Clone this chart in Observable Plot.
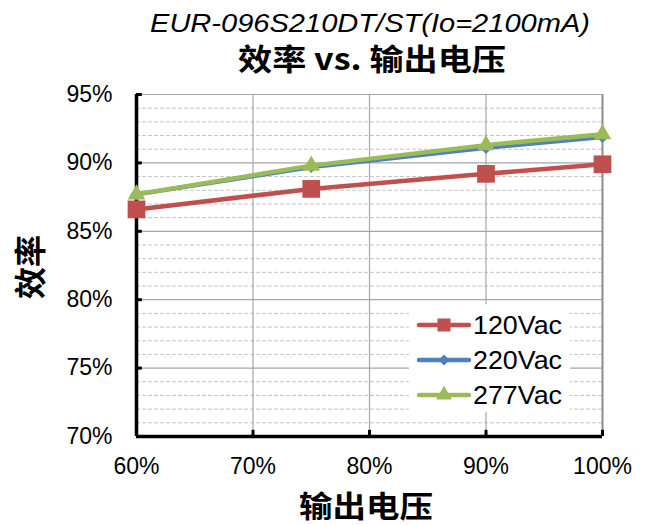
<!DOCTYPE html>
<html>
<head>
<meta charset="utf-8">
<script src="https://cdn.jsdelivr.net/npm/d3@7"></script>
<script src="https://cdn.jsdelivr.net/npm/@observablehq/plot@0.6"></script>
<style>
  html, body { margin: 0; padding: 0; background: white; }
  #chart { width: 645px; height: 525px; }
</style>
</head>
<body>
<div id="chart"></div>
<script>
const titleLine1 = "EUR-096S210DT/ST(Io=2100mA)";
const titleLine2 = "效率 vs. 输出电压";
const xTitle = "输出电压";
const yTitle = "效率";

const voltage = [60, 75, 90, 100];           // output voltage, %
const eff120 = [86.6, 88.1, 89.2, 89.9];     // efficiency, %
const eff220 = [87.7, 89.7, 91.1, 91.9];
const eff277 = [87.7, 89.8, 91.3, 92.1];

const seriesNames = ["120Vac", "220Vac", "277Vac"];
const seriesColors = ["#C0504D", "#4F81BD", "#9BBB59"];
const seriesSymbols = ["square", "diamond2", "triangle"];
const seriesR = [10, 5.5, 6.5];

const xTicks = [60, 70, 80, 90, 100];
const yTicks = [70, 75, 80, 85, 90, 95];
const yMinor = [71,72,73,74,76,77,78,79,81,82,83,84,86,87,88,89,91,92,93,94];

const seriesValues = [eff120, eff220, eff277];
const rows = seriesNames.flatMap((s, i) =>
  voltage.map((v, j) => ({series: s, v, eff: seriesValues[i][j]})));

const pct = d => d + "%";

const seriesMarks = seriesNames.flatMap((s, i) => {
  const d = rows.filter(r => r.series === s);
  return [
    Plot.line(d, {x: "v", y: "eff", stroke: "series", strokeWidth: 4.5, strokeLinejoin: "round"}),
    Plot.dot(d, {x: "v", y: "eff", fill: "series", symbol: () => seriesSymbols[i], r: seriesR[i], stroke: "none"})
  ];
});

const chart = Plot.plot({
  width: 645,
  height: 525,
  marginLeft: 136,
  marginRight: 43,
  marginTop: 94,
  marginBottom: 89,
  style: {fontFamily: "'Liberation Sans', Arial, sans-serif", fontSize: "22px", background: "white", color: "black", overflow: "visible"},
  x: {domain: [60, 100], label: null},
  y: {domain: [70, 95], label: null},
  color: {domain: seriesNames, range: seriesColors},
  symbol: {domain: seriesSymbols, range: seriesSymbols},
  marks: [
    Plot.ruleY(yMinor, {stroke: "#c4c4c4", strokeWidth: 1, strokeDasharray: "4,2"}),
    Plot.ruleY(yTicks.slice(1), {stroke: "#a6a6a6", strokeWidth: 1.2}),
    Plot.ruleX(xTicks.slice(1, -1), {stroke: "#a6a6a6", strokeWidth: 1.2}),
    Plot.ruleX([100], {stroke: "#8c8c8c", strokeWidth: 2}),
    Plot.axisY({ticks: yTicks, tickFormat: pct, tickSize: 0, tickPadding: 24, fontSize: 23}),
    Plot.axisX({ticks: xTicks, tickFormat: pct, tickSize: 0, tickPadding: 21, fontSize: 23}),
    Plot.ruleY(yTicks, {x1: 60, x2: 60.5, stroke: "black", strokeWidth: 3}),
    Plot.ruleX(xTicks, {y1: 70, y2: 70.45, stroke: "black", strokeWidth: 3}),
    Plot.ruleX([60], {stroke: "black", strokeWidth: 3.5}),
    Plot.ruleY([70], {stroke: "black", strokeWidth: 3.5}),
    ...seriesMarks
  ]
});

document.getElementById("chart").appendChild(chart);

const svg = d3.select(chart);

// Titles
svg.append("text")
  .attr("x", 370).attr("y", 32)
  .attr("text-anchor", "middle")
  .attr("font-family", "'Liberation Sans', Arial, sans-serif")
  .attr("font-style", "italic")
  .attr("font-size", 25)
  .attr("textLength", 440)
  .attr("lengthAdjust", "spacingAndGlyphs")
  .attr("fill", "black")
  .text(titleLine1);

svg.append("text")
  .attr("x", 372).attr("y", 70)
  .attr("text-anchor", "middle")
  .attr("font-family", "'Noto Sans CJK SC', sans-serif")
  .attr("font-weight", "bold")
  .attr("font-size", 30)
  .attr("textLength", 268)
  .attr("lengthAdjust", "spacingAndGlyphs")
  .attr("fill", "black")
  .text(titleLine2);

svg.append("text")
  .attr("x", 366).attr("y", 517)
  .attr("text-anchor", "middle")
  .attr("font-family", "'Noto Sans CJK SC', sans-serif")
  .attr("font-weight", "bold")
  .attr("font-size", 30)
  .attr("textLength", 134)
  .attr("lengthAdjust", "spacingAndGlyphs")
  .attr("fill", "black")
  .text(xTitle);

svg.append("text")
  .attr("transform", "translate(30,267) rotate(-90)")
  .attr("text-anchor", "middle")
  .attr("dy", "0.36em")
  .attr("font-family", "'Noto Sans CJK SC', sans-serif")
  .attr("font-weight", "bold")
  .attr("font-size", 32)
  .attr("fill", "black")
  .text(yTitle);

// Legend
const lg = svg.append("g");
lg.append("rect").attr("x", 409).attr("y", 304).attr("width", 161).attr("height", 108).attr("fill", "white");
const legendY = [325, 360, 395];
const legendSym = [d3.symbolSquare, d3.symbolDiamond2, d3.symbolTriangle];
const legendSize = [170, 80, 110];
seriesNames.forEach((s, i) => {
  const g = lg.append("g").attr("transform", `translate(0,${legendY[i]})`);
  g.append("line").attr("x1", 419).attr("x2", 469).attr("y1", 0).attr("y2", 0)
    .attr("stroke", seriesColors[i]).attr("stroke-width", 4.5).attr("stroke-linecap", "round");
  g.append("path").attr("transform", "translate(444,0)")
    .attr("d", d3.symbol(legendSym[i], legendSize[i])())
    .attr("fill", seriesColors[i]);
  g.append("text").attr("x", 473).attr("y", 9)
    .attr("text-anchor", "start")
    .attr("font-family", "'Liberation Sans', Arial, sans-serif")
    .attr("font-size", 25)
    .attr("textLength", 89)
    .attr("lengthAdjust", "spacingAndGlyphs")
    .attr("fill", "black")
    .text(s);
});
</script>
</body>
</html>
